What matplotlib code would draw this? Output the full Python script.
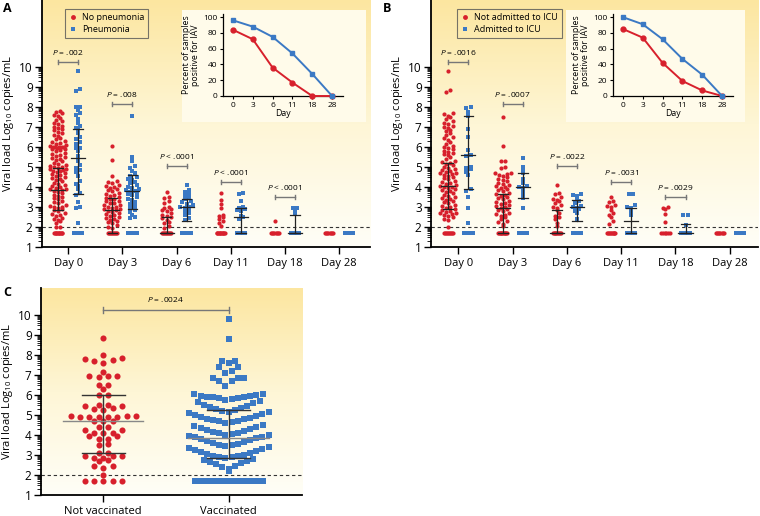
import numpy as np
import matplotlib
matplotlib.use('Agg')
import matplotlib.pyplot as plt
from matplotlib.colors import LinearSegmentedColormap
from matplotlib.lines import Line2D
from matplotlib.patches import Rectangle

plt.rcParams['font.family'] = ['Open Sans', 'DejaVu Sans']
plt.rcParams['mathtext.fontset'] = 'custom'
plt.rcParams['mathtext.rm'] = 'Open Sans'
plt.rcParams['mathtext.it'] = 'Open Sans:italic'

RED = '#d7202c'
BLUE = '#3b79c4'
CREAM = '#fffbea'
LOD = 1.7

DAYS = ['Day 0', 'Day 3', 'Day 6', 'Day 11', 'Day 18', 'Day 28']
INSET_DAYS = ['0', '3', '6', '11', '18', '28']

# ---------------- Panel A: no pneumonia (red) vs pneumonia (blue) ----------------
A_RED_D0 = [7.78, 7.75, 7.72, 7.62, 7.55, 7.45, 7.35, 7.3, 7.2, 7.15, 7.05, 7.0, 6.95, 6.92,
            6.85, 6.75, 6.7, 6.62, 6.55, 6.45, 6.4, 6.3, 6.25, 6.2, 6.15, 6.1, 6.05, 6.02, 6.0,
            6.0, 6.0, 5.98, 5.95, 5.92, 5.9, 5.85, 5.8, 5.72, 5.65, 5.6, 5.55, 5.5, 5.45, 5.4,
            5.35, 5.3, 5.22, 5.15, 5.1, 5.05, 5.0, 4.98, 4.95, 4.9, 4.88, 4.85, 4.8, 4.78, 4.75,
            4.7, 4.65, 4.6, 4.55, 4.5, 4.45, 4.4, 4.35, 4.3, 4.22, 4.15, 4.1, 4.05, 4.0, 3.95,
            3.92, 3.88, 3.85, 3.8, 3.75, 3.7, 3.62, 3.55, 3.5, 3.45, 3.4, 3.32, 3.25, 3.2, 3.12,
            3.05, 3.0, 2.98, 2.95, 2.9, 2.85, 2.8, 2.72, 2.65, 2.6, 2.55, 2.45, 2.4, 2.35, 2.28,
            2.2, 2.0, 1.98]
A_RED_D3 = [6.05, 5.35, 4.55, 4.3, 4.25, 4.2, 4.12, 4.05, 4.0, 3.95, 3.9, 3.85, 3.8, 3.72, 3.65,
            3.6, 3.55, 3.5, 3.45, 3.42, 3.38, 3.32, 3.28, 3.22, 3.18, 3.12, 3.08, 3.02, 3.0, 2.96,
            2.92, 2.88, 2.84, 2.8, 2.75, 2.7, 2.65, 2.6, 2.55, 2.5, 2.45, 2.4, 2.35, 2.3, 2.25,
            2.18, 2.1, 2.0, 1.95]
A_RED_D6 = [3.75, 3.5, 3.45, 3.3, 3.2, 3.0, 2.95, 2.9, 2.85, 2.8, 2.7, 2.62, 2.55, 2.5, 2.45,
            2.35, 2.25, 2.2, 2.05, 1.95]
A_RED_D11 = [3.72, 3.35, 3.15, 2.95, 2.6, 2.55, 2.5, 2.42, 2.3, 2.2, 2.05]
A_RED_D18 = [2.3]
A_RED_D28 = []
A_RED_LOD = [12, 10, 10, 12, 8, 8]

A_BLUE_D0 = [9.78, 8.9, 8.82, 8.02, 7.98, 7.85, 7.7, 7.6, 7.4, 7.2, 7.05, 6.95, 6.85, 6.7, 6.5,
             6.4, 6.25, 6.15, 5.97, 5.95, 5.8, 5.55, 5.4, 5.3, 5.1, 4.95, 4.85, 4.75, 4.55, 4.3,
             4.15, 4.05, 3.9, 3.7, 3.6, 3.25, 3.0, 2.95, 2.2]
A_BLUE_D3 = [7.55, 5.5, 5.3, 5.05, 4.95, 4.8, 4.7, 4.55, 4.5, 4.42, 4.35, 4.25, 4.2, 4.1, 4.02,
             3.95, 3.9, 3.85, 3.8, 3.75, 3.7, 3.65, 3.6, 3.5, 3.4, 3.35, 3.25, 3.15, 3.05, 2.95,
             2.85, 2.75, 2.6, 2.5, 2.45]
A_BLUE_D6 = [4.12, 3.85, 3.75, 3.65, 3.55, 3.5, 3.4, 3.3, 3.25, 3.15, 3.1, 3.02, 2.98, 2.95, 2.9,
             2.8, 2.7, 2.6, 2.45, 2.35]
A_BLUE_D11 = [3.72, 3.65, 3.3, 3.0, 2.95, 2.9, 2.85, 2.8, 2.55, 2.5, 2.4]
A_BLUE_D18 = [2.97, 2.95, 2.75, 2.65]
A_BLUE_D28 = []
A_BLUE_LOD = [5, 4, 4, 6, 6, 6]

# median, lower and upper bar ends (nan = no bar drawn)
A_RED_MED = [3.85, 2.83, 1.72, np.nan, np.nan, np.nan]
A_RED_LO = [2.85, 1.72, 1.72, np.nan, np.nan, np.nan]
A_RED_HI = [4.93, 3.43, 2.48, np.nan, np.nan, np.nan]
A_BLUE_MED = [5.47, 3.82, 2.98, 2.5, 1.72, np.nan]
A_BLUE_LO = [3.63, 2.88, 2.3, 1.72, 1.72, np.nan]
A_BLUE_HI = [6.9, 4.58, 3.38, 2.93, 2.6, np.nan]

A_PVALS = ['= .002', '= .008', '< .0001', '< .0001', '< .0001']
A_PY = [10.25, 8.15, 5.05, 4.25, 3.5]

A_INSET_RED = [84, 72, 36, 17, 0, 0]
A_INSET_BLUE = [96, 88, 75, 54, 28, 0]

# ---------------- Panel B: not admitted (red) vs admitted to ICU (blue) ----------------
B_RED_D0 = [9.78, 8.85, 8.75, 7.72, 7.65, 7.55, 7.5, 7.4, 7.3, 7.22, 7.15, 7.05, 7.0, 6.95, 6.85,
            6.8, 6.7, 6.6, 6.5, 6.45, 6.35, 6.25, 6.15, 6.05, 6.0, 5.95, 5.9, 5.82, 5.75, 5.7,
            5.65, 5.6, 5.5, 5.4, 5.32, 5.25, 5.2, 5.15, 5.08, 5.0, 4.95, 4.9, 4.85, 4.8, 4.75,
            4.72, 4.7, 4.65, 4.6, 4.55, 4.5, 4.45, 4.4, 4.32, 4.25, 4.2, 4.15, 4.1, 4.05, 4.02,
            4.0, 3.95, 3.9, 3.85, 3.8, 3.75, 3.7, 3.62, 3.55, 3.5, 3.45, 3.4, 3.35, 3.3, 3.25,
            3.2, 3.12, 3.05, 3.0, 2.95, 2.9, 2.85, 2.8, 2.75, 2.7, 2.68, 2.65, 2.6, 2.55, 2.5,
            2.42, 2.35, 2.0]
B_RED_D3 = [7.52, 6.05, 5.32, 5.3, 5.0, 4.95, 4.7, 4.68, 4.65, 4.6, 4.55, 4.5, 4.42, 4.35, 4.3,
            4.22, 4.15, 4.1, 4.05, 4.0, 3.95, 3.9, 3.85, 3.8, 3.72, 3.65, 3.6, 3.55, 3.5, 3.45,
            3.4, 3.32, 3.25, 3.2, 3.15, 3.1, 3.05, 3.0, 2.95, 2.9, 2.85, 2.8, 2.72, 2.65, 2.6,
            2.55, 2.48, 2.4, 2.32, 2.25, 2.15, 2.05]
B_RED_D6 = [4.1, 3.7, 3.65, 3.5, 3.4, 3.35, 3.3, 3.2, 3.1, 3.0, 2.95, 2.85, 2.7, 2.55, 2.5, 2.4,
            2.2, 2.05]
B_RED_D11 = [3.5, 3.3, 3.25, 3.1, 3.05, 3.0, 2.85, 2.7, 2.6, 2.5, 2.3, 2.15]
B_RED_D18 = [3.0, 2.95, 2.9, 2.65, 2.27]
B_RED_D28 = []
B_RED_LOD = [10, 12, 10, 10, 6, 8]

B_BLUE_D0 = [8.0, 7.95, 7.75, 7.55, 6.9, 6.5, 5.85, 5.6, 5.55, 5.0, 4.95, 4.9, 4.75, 4.6, 3.9,
             3.8, 3.5, 2.95, 2.2]
B_BLUE_D3 = [5.45, 5.0, 4.85, 4.7, 4.4, 4.2, 4.05, 4.0, 3.95, 3.8, 3.6, 3.45, 2.95]
B_BLUE_D6 = [3.67, 3.62, 3.55, 3.4, 3.3, 3.2, 3.05, 3.0, 2.95, 2.9, 2.8, 2.7, 2.4]
B_BLUE_D11 = [3.65, 3.65, 3.1, 3.0, 2.95, 2.8, 2.6]
B_BLUE_D18 = [2.62, 2.62, 2.1]
B_BLUE_D28 = []
B_BLUE_LOD = [5, 4, 4, 4, 4, 6]

B_RED_MED = [4.03, 2.93, 1.72, np.nan, np.nan, np.nan]
B_RED_LO = [2.9, 1.72, 1.72, np.nan, np.nan, np.nan]
B_RED_HI = [5.2, 3.63, 2.87, np.nan, np.nan, np.nan]
B_BLUE_MED = [5.6, 4.0, 2.98, 2.28, 1.72, np.nan]
B_BLUE_LO = [3.88, 3.45, 2.28, 1.72, 1.72, np.nan]
B_BLUE_HI = [7.55, 4.7, 3.35, 2.95, 2.15, np.nan]

B_PVALS = ['= .0016', '= .0007', '= .0022', '= .0031', '= .0029']
B_PY = [10.25, 8.15, 5.05, 4.25, 3.5]

B_INSET_RED = [85, 74, 42, 19, 7, 0]
B_INSET_BLUE = [100, 91, 72, 47, 27, 0]

# ---------------- Panel C: not vaccinated (red) vs vaccinated (blue) ----------------
C_RED = [8.87, 8.0, 7.83, 7.8, 7.75, 7.7, 7.6, 7.15, 6.97, 6.95, 6.95, 6.9, 6.5, 6.5, 6.3, 6.0,
         6.0, 5.5, 5.5, 5.45, 5.45, 5.35, 5.3, 5.25, 4.95, 4.95, 4.95, 4.9, 4.9, 4.9, 4.9, 4.9,
         4.72, 4.7, 4.68, 4.4, 4.4, 4.27, 4.27, 4.1, 4.1, 4.1, 3.95, 3.95, 3.8, 3.8, 3.55, 3.5,
         3.12, 3.1, 2.97, 2.95, 2.95, 2.85, 2.85, 2.75, 2.72, 2.45, 2.45, 2.35, 2.0]
C_BLUE = [9.78, 8.8, 7.72, 7.7, 7.6, 7.4, 7.4, 7.2, 7.1, 6.87, 6.85, 6.85, 6.7, 6.7, 6.45,
          6.05, 6.03, 6.0, 5.97, 5.95, 5.92, 5.9, 5.88, 5.85, 5.83, 5.8,
          5.75, 5.72, 5.65, 5.6, 5.52, 5.45, 5.4, 5.35, 5.3, 5.25, 5.2, 5.17, 5.15,
          5.1, 5.05, 5.0, 4.95, 4.9, 4.85, 4.82, 4.8, 4.75, 4.7, 4.68, 4.63, 4.6,
          4.5, 4.45, 4.4, 4.35, 4.3, 4.25, 4.2, 4.15, 4.12, 4.1, 4.05, 4.02, 4.0,
          3.95, 3.92, 3.9, 3.85, 3.8, 3.75, 3.7, 3.65, 3.6, 3.55, 3.52, 3.48, 3.45,
          3.4, 3.35, 3.3, 3.25, 3.2, 3.15, 3.1, 3.05, 3.0, 2.97, 2.95, 2.92, 2.9,
          2.85, 2.8, 2.75, 2.7, 2.65, 2.6, 2.55, 2.45, 2.4, 2.3, 2.2]
C_LOD = [5, 30]
C_MED = [4.72, 3.85]
C_LO = [3.08, 2.85]
C_HI = [5.98, 5.25]
C_LABELS = ['Not vaccinated', 'Vaccinated']

W, H = 760, 516
BG = LinearSegmentedColormap.from_list('bg', ['#fffef7', '#fef6d6', '#fce6a0'])


def px_rect(x0, y0, x1, y1):
    """pixel box (top-left origin) -> figure fraction rect"""
    return [x0 / W, 1 - y1 / H, (x1 - x0) / W, (y1 - y0) / H]


def style_axis(ax, xlim, ylim):
    ax.set_xlim(*xlim)
    ax.set_ylim(*ylim)
    ax.imshow(np.linspace(0, 1, 256)[:, None], extent=(*xlim, *ylim), origin='lower',
              aspect='auto', cmap=BG, zorder=0)
    for s in ['top', 'right']:
        ax.spines[s].set_visible(False)
    for s in ['left', 'bottom']:
        ax.spines[s].set_linewidth(1.3)
    ax.set_yticks(range(1, 11))
    minor = [k + np.log10(m) for k in range(1, 10) for m in range(2, 10)]
    ax.set_yticks(minor, minor=True)
    ax.tick_params(axis='y', which='major', length=5, width=1.0, labelsize=8.5, pad=1.5)
    ax.tick_params(axis='y', which='minor', length=3, width=0.6)
    ax.tick_params(axis='x', length=5, width=1.0, labelsize=8, pad=3)
    ax.set_ylabel('Viral load Log$_{\\mathrm{10}}$ copies/mL', fontsize=8, labelpad=2)
    ax.axhline(2, color='#333333', lw=0.8, ls=(0, (3, 2.5)), zorder=1)


def row_offsets(ax, values, bin_h, origin, spacing, max_px):
    """scatter-dot layout: values binned in rows, each row spread side by side
    with its lowest value in the middle; rows wider than max_px are squeezed."""
    (x0, _), (x1, _) = ax.transData.transform([(0, 0), (1, 1)])
    sx = x1 - x0
    vals = np.sort(np.asarray(values, float))
    bins = np.floor((vals - origin) / bin_h + 1e-9).astype(int)
    dx = np.zeros(len(vals))
    for b in np.unique(bins):
        idx = np.where(bins == b)[0]
        n = len(idx)
        sp = spacing
        if n > 1 and (n - 1) * spacing > 2 * max_px:
            sp = 2 * max_px / (n - 1)
        slots = sorted(np.arange(n) - (n - 1) / 2, key=lambda s: (abs(s), s))
        dx[idx] = np.array(slots) * sp
    return vals, dx / sx


def draw_group(ax, values, n_lod, x0, color, marker, ms, bin_h, origin, spacing, max_px,
               lod_px):
    if len(values):
        v, dx = row_offsets(ax, values, bin_h, origin, spacing, max_px)
        ax.plot(x0 + dx, v, ls='none', marker=marker, ms=ms, color=color, mew=0, zorder=3)
    if n_lod:
        v, dx = row_offsets(ax, [LOD] * n_lod, bin_h, origin, spacing, lod_px)
        ax.plot(x0 + dx, v, ls='none', marker=marker, ms=ms, color=color, mew=0, zorder=3)


def draw_stats(ax, x0, med, lo, hi, half_mid, half_cap, mid_color, bar_color, lw):
    if np.isnan(med):
        return
    ax.plot([x0, x0], [lo, hi], color=bar_color, lw=lw, zorder=4)
    ax.plot([x0 - half_cap, x0 + half_cap], [lo, lo], color=bar_color, lw=lw, zorder=4)
    ax.plot([x0 - half_cap, x0 + half_cap], [hi, hi], color=bar_color, lw=lw, zorder=4)
    ax.plot([x0 - half_mid, x0 + half_mid], [med, med], color=mid_color, lw=lw, zorder=4)


def draw_bracket(ax, x1, x2, y, text, fs, tick=0.12, gap=0.25):
    ax.plot([x1, x2], [y, y], color='#777777', lw=1.0, zorder=4)
    ax.plot([x1, x1], [y - tick, y + tick], color='#777777', lw=1.0, zorder=4)
    ax.plot([x2, x2], [y - tick, y + tick], color='#777777', lw=1.0, zorder=4)
    ax.text((x1 + x2) / 2, y + gap, '$P$ ' + text, ha='center', va='bottom', fontsize=fs)


def draw_inset(fig, rect, box, red, blue):
    fig.add_artist(Rectangle((box[0], box[1]), box[2], box[3], transform=fig.transFigure,
                             facecolor=CREAM, edgecolor='none', zorder=2))
    ins = fig.add_axes(rect, zorder=3)
    ins.set_facecolor(CREAM)
    x = np.arange(len(INSET_DAYS))
    ins.plot(x, red, '-o', color=RED, ms=3.5, lw=1.4, clip_on=False, zorder=3)
    ins.plot(x, blue, '-s', color=BLUE, ms=3.2, lw=1.4, clip_on=False, zorder=3)
    ins.set_xlim(-0.5, 5.55)
    ins.set_ylim(0, 104)
    ins.set_yticks(range(0, 101, 20))
    ins.set_xticks(x)
    ins.set_xticklabels(INSET_DAYS)
    for s in ['top', 'right']:
        ins.spines[s].set_visible(False)
    for s in ['left', 'bottom']:
        ins.spines[s].set_linewidth(0.9)
    ins.tick_params(labelsize=6, length=2.5, width=0.8, pad=1.5)
    ins.set_xlabel('Day', fontsize=6.3, labelpad=0)
    ins.set_ylabel('Percent of samples\npositive for IAV', fontsize=6.3, labelpad=2,
                   linespacing=1.0)


def day_panel(fig, box, xlim, reds, blues, red_lod, blue_lod, red_stats, blue_stats,
              pvals, py, legend_labels, legend_xy, inset_box, bg_box, inset_red, inset_blue):
    ax = fig.add_axes(px_rect(*box))
    style_axis(ax, xlim, (1, 13.35))
    ax.set_xticks(range(len(DAYS)))
    ax.set_xticklabels(DAYS)
    off = 0.185
    for i in range(len(DAYS)):
        draw_group(ax, reds[i], red_lod[i], i - off, RED, 'o', 3.0, 0.2, 1.95, 4.2, 8.0, 4.2)
        draw_group(ax, blues[i], blue_lod[i], i + off, BLUE, 's', 2.8, 0.2, 1.95, 4.2, 7.0,
                   4.2)
        draw_stats(ax, i - off, red_stats[0][i], red_stats[1][i], red_stats[2][i],
                   0.13, 0.09, '#222222', '#222222', 0.9)
        draw_stats(ax, i + off, blue_stats[0][i], blue_stats[1][i], blue_stats[2][i],
                   0.13, 0.09, '#222222', '#222222', 0.9)
    for i, (t, y) in enumerate(zip(pvals, py)):
        draw_bracket(ax, i - off, i + off, y, t, 6)
    handles = [Line2D([], [], ls='none', marker='o', color=RED, ms=3.5, mew=0),
               Line2D([], [], ls='none', marker='s', color=BLUE, ms=3.2, mew=0)]
    leg = ax.legend(handles, legend_labels, loc='upper left', fontsize=6.5,
                    bbox_to_anchor=(legend_xy[0] / W, 1 - legend_xy[1] / H),
                    bbox_transform=fig.transFigure, frameon=True, fancybox=False,
                    handlelength=0.9, handletextpad=0.5, borderpad=0.45, labelspacing=0.3,
                    borderaxespad=0)
    leg.get_frame().set_edgecolor('#555555')
    leg.get_frame().set_linewidth(0.8)
    leg.get_frame().set_facecolor('none')
    draw_inset(fig, px_rect(*inset_box), px_rect(*bg_box), inset_red, inset_blue)
    return ax


fig = plt.figure(figsize=(W / 100, H / 100), dpi=100)

day_panel(fig, (41.7, 0, 370, 247), (-0.49, 5.57),
          [A_RED_D0, A_RED_D3, A_RED_D6, A_RED_D11, A_RED_D18, A_RED_D28],
          [A_BLUE_D0, A_BLUE_D3, A_BLUE_D6, A_BLUE_D11, A_BLUE_D18, A_BLUE_D28],
          A_RED_LOD, A_BLUE_LOD, (A_RED_MED, A_RED_LO, A_RED_HI),
          (A_BLUE_MED, A_BLUE_LO, A_BLUE_HI), A_PVALS, A_PY,
          ['No pneumonia', 'Pneumonia'], (65, 9),
          (223, 14, 343, 96), (182, 10, 366, 122), A_INSET_RED, A_INSET_BLUE)

day_panel(fig, (430.7, 0, 758, 247), (-0.51, 5.52),
          [B_RED_D0, B_RED_D3, B_RED_D6, B_RED_D11, B_RED_D18, B_RED_D28],
          [B_BLUE_D0, B_BLUE_D3, B_BLUE_D6, B_BLUE_D11, B_BLUE_D18, B_BLUE_D28],
          B_RED_LOD, B_BLUE_LOD, (B_RED_MED, B_RED_LO, B_RED_HI),
          (B_BLUE_MED, B_BLUE_LO, B_BLUE_HI), B_PVALS, B_PY,
          ['Not admitted to ICU', 'Admitted to ICU'], (457, 9),
          (613, 14, 733, 96), (566, 10, 745, 122), B_INSET_RED, B_INSET_BLUE)

# Panel C
axc = fig.add_axes(px_rect(40.7, 288, 302, 495))
style_axis(axc, (-0.5, 1.587), (1, 11.35))
axc.set_xticks([0, 1])
axc.set_xticklabels(C_LABELS, fontsize=8)
draw_group(axc, C_RED, C_LOD[0], 0, RED, 'o', 4.4, 0.3, 1.9, 9.3, 38, 20)
draw_group(axc, C_BLUE, C_LOD[1], 1, BLUE, 's', 4.0, 0.58, 2.27, 6.2, 40, 34)
for i in range(2):
    draw_stats(axc, i, C_MED[i], C_LO[i], C_HI[i], 0.32, 0.17, '#888888', '#333333', 1.0)
draw_bracket(axc, 0, 1, 10.25, '= .0024', 6, tick=0.15, gap=0.3)

fig.text(3 / W, 1 - 2 / H, 'A', fontsize=9, fontweight='bold', va='top')
fig.text(383 / W, 1 - 2 / H, 'B', fontsize=9, fontweight='bold', va='top')
fig.text(3 / W, 1 - 286 / H, 'C', fontsize=9, fontweight='bold', va='top')

fig.savefig('out.png', dpi=100)
